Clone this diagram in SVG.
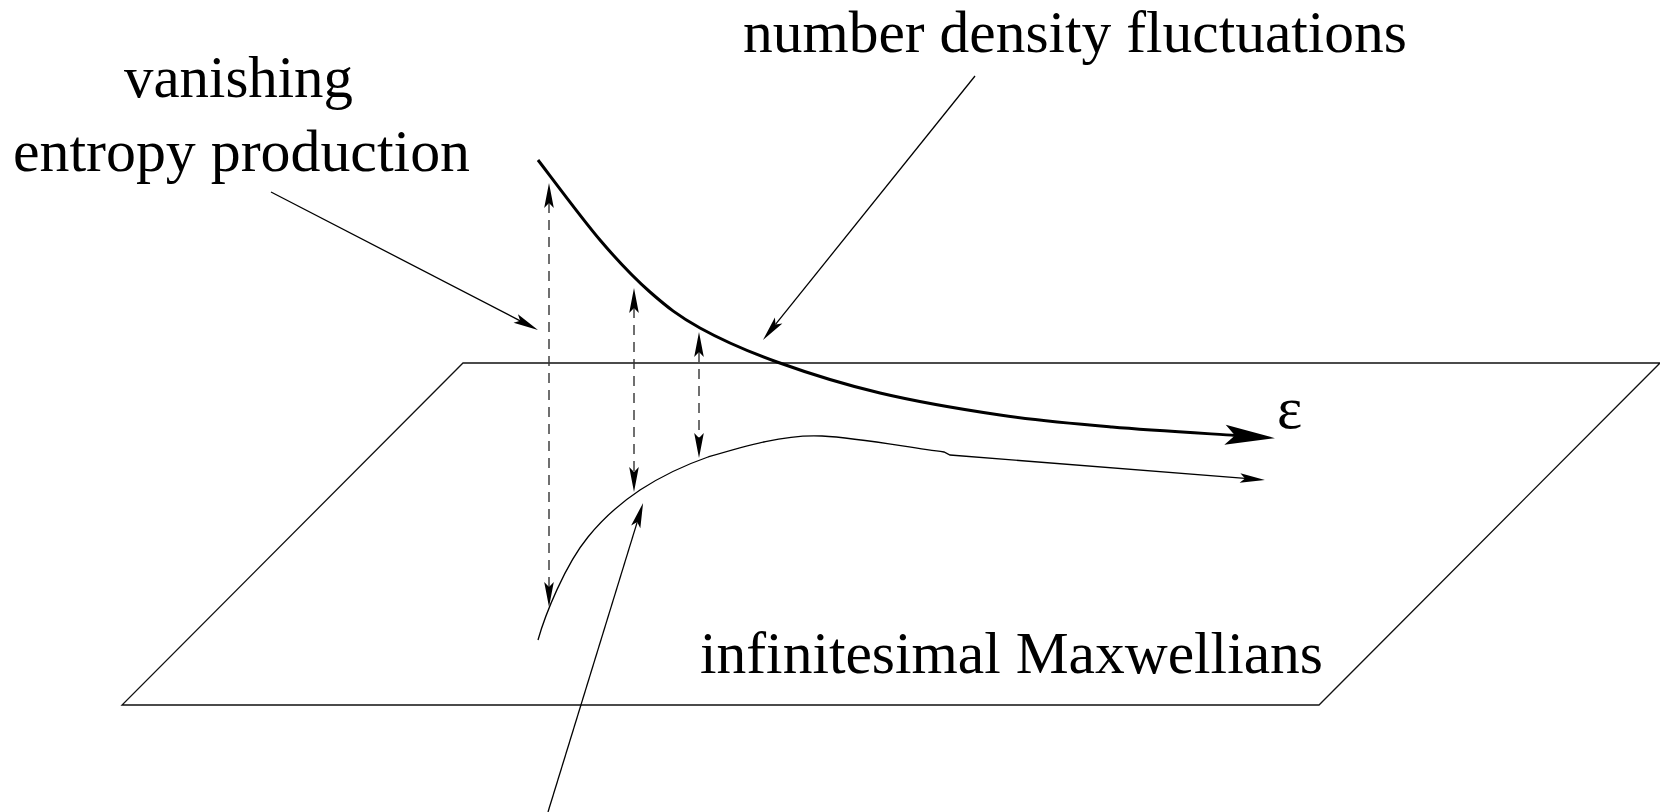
<svg xmlns="http://www.w3.org/2000/svg" width="1660" height="812" viewBox="0 0 1660 812">
  <style>
    text { font-family: "Liberation Serif", "Times New Roman", Times, "Nimbus Roman", "Noto Serif", "DejaVu Serif", serif; font-size: 59px; fill: #000; }
    .thin { fill: none; stroke: #000; stroke-width: 1.3; }
    .dash { fill: none; stroke: #333; stroke-width: 1.4; stroke-dasharray: 10 7; }
    .thick { fill: none; stroke: #000; stroke-width: 3; }
    .plane { fill: none; stroke: #111; stroke-width: 1.3; }
  </style>
  <defs>
    <marker id="bigHead" markerUnits="userSpaceOnUse" markerWidth="60" markerHeight="24" refX="10" refY="0" viewBox="0 -12 60 24" orient="auto" overflow="visible">
      <path d="M50,0 L0,-10 L10,0 L0,10 Z" fill="#000"/>
    </marker>
    <marker id="smallHead" markerUnits="userSpaceOnUse" markerWidth="30" markerHeight="12" refX="5" refY="0" viewBox="0 -6 30 12" orient="auto-start-reverse" overflow="visible">
      <path d="M25,0 L0,-4.8 L5,0 L0,4.8 Z" fill="#000"/>
    </marker>
  </defs>

  <g id="plane">
    <polygon class="plane" points="463,363 1660,363 1319,705 122,705"/>
  </g>

  <g id="upper-curve">
    <path class="thick" marker-end="url(#bigHead)" d="M538,160 C548.3,173.3 581.3,218 600,240 C618.7,262 633.3,277.3 650,292 C666.7,306.7 678.8,316.3 700,328 C721.2,339.7 747,351.2 777,362 C807,372.8 842.8,384.2 880,393 C917.2,401.8 961.3,409.3 1000,415 C1038.7,420.7 1072.8,423.6 1112,427 C1151.2,430.4 1214.5,434 1235,435.4"/>
  </g>

  <g id="lower-curve">
    <path class="thin" marker-end="url(#smallHead)" d="M538,640 C545,615 565,565 588,537 C605,516 622,502 640,490 C660,477 685,465 708,457 C745,446 785,434 822,436 C860,438 905,447 944,452 L950,455 L1245,478.4"/>
  </g>

  <g id="connectors">
    <line class="dash" x1="549" y1="203" x2="549" y2="587" marker-start="url(#smallHead)" marker-end="url(#smallHead)"/>
    <line class="dash" x1="634" y1="308" x2="634" y2="472" marker-start="url(#smallHead)" marker-end="url(#smallHead)"/>
    <line class="dash" x1="699" y1="352" x2="699" y2="438" marker-start="url(#smallHead)" marker-end="url(#smallHead)"/>
    <line class="thin" x1="271" y1="192" x2="520.2" y2="320.8" marker-end="url(#smallHead)"/>
    <line class="thin" x1="975" y1="76" x2="775.5" y2="324.4" marker-end="url(#smallHead)"/>
    <line class="thin" x1="548" y1="812" x2="637.2" y2="522.1" marker-end="url(#smallHead)"/>
  </g>

  <g id="label-entropy">
    <text x="124" y="97" textLength="229" lengthAdjust="spacingAndGlyphs">vanishing</text>
    <text x="13" y="171" textLength="457" lengthAdjust="spacingAndGlyphs">entropy production</text>
  </g>
  <g id="label-density">
    <text x="743" y="52" textLength="664" lengthAdjust="spacingAndGlyphs">number density fluctuations</text>
  </g>
  <g id="label-maxwellians">
    <text x="700" y="673" textLength="623" lengthAdjust="spacingAndGlyphs">infinitesimal Maxwellians</text>
  </g>
  <g id="label-epsilon">
    <text x="1277" y="428" style="font-size:60px">ε</text>
  </g>
</svg>
